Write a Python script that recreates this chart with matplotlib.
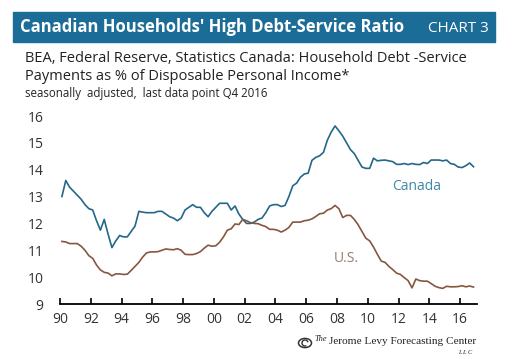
import numpy as np
import matplotlib
matplotlib.use("Agg")
import matplotlib.pyplot as plt
from matplotlib.patches import Rectangle, Circle, Arc

years = list(range(1990, 2017))

# quarterly values, Q1..Q4 per year
canada = [
    13.0, 13.6, 13.35, 13.2,
    13.05, 12.9, 12.7, 12.55,
    12.5, 12.1, 11.75, 12.15,
    11.6, 11.1, 11.35, 11.55,
    11.5, 11.5, 11.7, 11.9,
    12.45, 12.42, 12.4, 12.4,
    12.4, 12.45, 12.45, 12.35,
    12.25, 12.2, 12.1, 12.2,
    12.5, 12.6, 12.7, 12.6,
    12.6, 12.4, 12.25, 12.45,
    12.6, 12.75, 12.75, 12.75,
    12.5, 12.65, 12.35, 12.15,
    12.0, 12.0, 12.05, 12.15,
    12.2, 12.4, 12.65, 12.7,
    12.7, 12.63, 12.67, 13.0,
    13.4, 13.5, 13.72, 13.84,
    13.87, 14.35, 14.46, 14.52,
    14.65, 15.1, 15.4, 15.63,
    15.45, 15.25, 15.0, 14.75,
    14.6, 14.35, 14.1, 14.05,
    14.05, 14.43, 14.33, 14.35,
    14.36, 14.33, 14.3, 14.2,
    14.2, 14.23, 14.19, 14.23,
    14.2, 14.19, 14.27, 14.23,
    14.36, 14.36, 14.36, 14.33,
    14.36, 14.23, 14.2, 14.1,
    14.08, 14.15, 14.25, 14.11,
]

us = [
    11.33, 11.31, 11.25, 11.25,
    11.25, 11.15, 11.0, 10.8,
    10.7, 10.45, 10.27, 10.18,
    10.15, 10.05, 10.12, 10.12,
    10.1, 10.11, 10.25, 10.4,
    10.55, 10.75, 10.9, 10.94,
    10.94, 10.95, 11.0, 11.05,
    11.03, 11.02, 11.06, 11.0,
    10.85, 10.84, 10.84, 10.88,
    10.95, 11.08, 11.19, 11.15,
    11.17, 11.3, 11.5, 11.75,
    11.8, 11.98, 11.96, 12.15,
    12.1, 12.03, 12.0, 11.99,
    11.93, 11.88, 11.78, 11.78,
    11.75, 11.68, 11.75, 11.85,
    12.05, 12.05, 12.05, 12.1,
    12.12, 12.17, 12.26, 12.36,
    12.38, 12.5, 12.55, 12.67,
    12.55, 12.22, 12.3, 12.3,
    12.15, 11.95, 11.7, 11.45,
    11.35, 11.12, 10.85, 10.6,
    10.55, 10.4, 10.28, 10.15,
    10.1, 9.98, 9.87, 9.6,
    9.93, 9.87, 9.85, 9.85,
    9.76, 9.66, 9.61, 9.58,
    9.66, 9.64, 9.64, 9.65,
    9.68, 9.64, 9.67, 9.63,
]

xticks = list(range(1990, 2017, 2))
xlabels = ["90", "92", "94", "96", "98", "00", "02", "04", "06", "08",
           "10", "12", "14", "16"]
yticks = list(range(9, 17))

t = np.array([y + (q + 0.5) / 4 for y in years for q in range(4)])

blue = "#23678a"
brown = "#86563f"

fig = plt.figure(figsize=(5.12, 3.59), dpi=100)
fig.patch.set_facecolor("white")

# header bar
fig.patches.append(Rectangle((13 / 512, 1 - 42 / 359), 482 / 512, 30 / 359,
                             transform=fig.transFigure, color="#1c6c98",
                             zorder=0))
fig.text(20 / 512, 1 - 27 / 359, "Canadian Households' High Debt-Service Ratio",
         color="white", fontsize=12, fontweight="bold", family="Open Sans",
         va="center", ha="left")
fig.text(489 / 512, 1 - 28 / 359, "CHART 3", color="white", fontsize=11,
         family="Open Sans", va="center", ha="right")

fig.text(25 / 512, 1 - 58 / 359,
         "BEA, Federal Reserve, Statistics Canada: Household Debt -Service",
         fontsize=10.5, color="#222222", family="Open Sans", va="center")
fig.text(25 / 512, 1 - 77 / 359,
         "Payments as % of Disposable Personal Income*",
         fontsize=10.5, color="#222222", family="Open Sans", va="center")
fig.text(25 / 512, 1 - 93 / 359,
         "seasonally  adjusted,  last data point Q4 2016",
         fontsize=8.3, color="#222222", family="Open Sans", va="center")

ax = fig.add_axes([60 / 512, 1 - 304 / 359, 417 / 512, 188 / 359])
ax.plot(t, canada, color=blue, lw=1.2)
ax.plot(t, us, color=brown, lw=1.2)
ax.set_xlim(1990, 2017.1)
ax.set_ylim(9, 16)
ax.set_xticks(xticks)
ax.set_xticklabels(xlabels)
ax.set_yticks(yticks)
for s in ["top", "right", "left"]:
    ax.spines[s].set_visible(False)
ax.spines["bottom"].set_linewidth(1.3)
ax.tick_params(axis="x", direction="in", length=4, width=1.2, pad=6,
               labelsize=10, labelcolor="#333333")
ax.tick_params(axis="y", length=0, pad=12, labelsize=10, labelcolor="#333333")
for lab in ax.get_xticklabels() + ax.get_yticklabels():
    lab.set_family("Open Sans")

ax.text(2013.15, 13.37, "Canada", color="#3f87a8", fontsize=10,
        family="Open Sans", ha="center", va="center")
ax.text(2008.6, 10.7, "U.S.", color="#9a7b70", fontsize=10,
        family="Open Sans", ha="center", va="center")

# logo
fig.patches.append(Circle((305 / 512, 1 - 343 / 359), 6.5 / 512,
                          transform=fig.transFigure, fill=False,
                          ec="#333333", lw=1.1))
fig.patches.append(Arc((305 / 512, 1 - 343 / 359), 6 / 512, 6 / 359,
                       theta1=20, theta2=290, transform=fig.transFigure,
                       ec="#333333", lw=1.0))
fig.text(327 / 512, 1 - 339 / 359, "The", fontsize=6, style="italic",
         family="Liberation Serif", color="#222222", va="center", ha="right")
fig.text(476 / 512, 1 - 342 / 359, "Jerome Levy Forecasting Center",
         fontsize=8.1, family="Liberation Serif", color="#222222",
         va="center", ha="right")
fig.text(472 / 512, 1 - 352 / 359, "L L C", fontsize=4.5, style="italic",
         family="Liberation Serif", color="#222222", va="center", ha="right")

fig.savefig("out.png", dpi=100)
